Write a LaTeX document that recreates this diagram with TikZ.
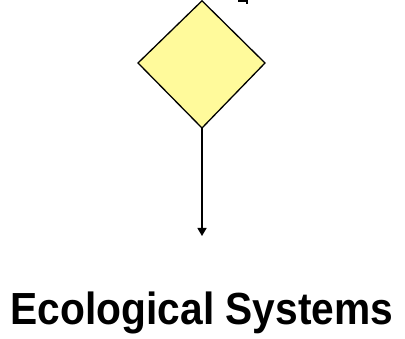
\documentclass[tikz,border=0pt]{standalone}
\usepackage{fontspec}
\setmainfont{Liberation Sans}
\usetikzlibrary{shapes.geometric,arrows.meta}
\definecolor{decfill}{RGB}{255,250,155}
\tikzset{
  decision/.style={draw=black, line width=1.3pt, fill=decfill},
  flow/.style={draw=black, line width=1.4pt, -{Triangle[width=9pt,length=8pt]}},
  title/.style={inner sep=0pt, anchor=base, font=\bfseries}
}
\begin{document}
\begin{tikzpicture}[x=1pt,y=-1pt]
\useasboundingbox (0,0) rectangle (405,339);
% diamond
\coordinate (dt) at (202,0.8);
\coordinate (dl) at (138,63);
\coordinate (dr) at (265,63);
\coordinate (db) at (202,128);
\draw[decision] (dt) -- (dr) -- (db) -- (dl) -- cycle;
% arrow down
\coordinate (tip) at (202,236);
\draw[flow] (db) -- (tip);
% small fragment top right
\coordinate (fa) at (238,1.5);
\coordinate (fb) at (247,1.5);
\coordinate (fc) at (247,4.5);
\draw[line width=2pt] (fa) -- (fb) -- (fc);
% label
\node[title] (lbl) at (202,325) {\scalebox{0.905}[1]{\fontsize{45}{50}\selectfont Ecological Systems}};
\end{tikzpicture}
\end{document}
